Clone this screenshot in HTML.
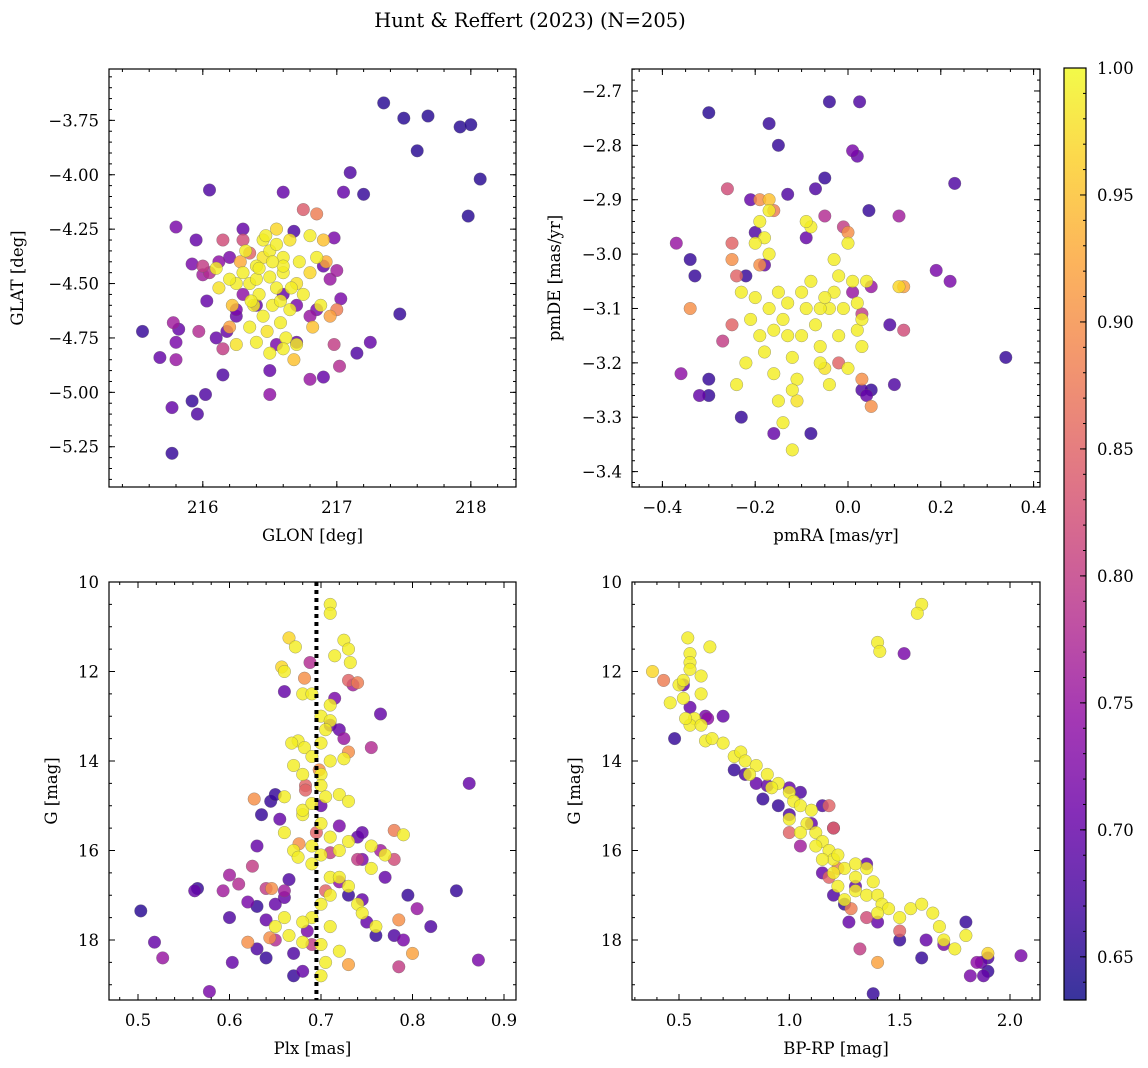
<!DOCTYPE html>
<html><head><meta charset="utf-8">
<style>
html,body{margin:0;padding:0;background:#fff;}
svg{display:block;font-family:"DejaVu Serif","Liberation Serif",serif;}
</style></head>
<body>
<svg id="fig" width="1148" height="1068" viewBox="0 0 1148 1068">
<text x="530" y="27" text-anchor="middle" font-size="19.5">Hunt &amp; Reffert (2023) (N=205)</text>
</svg>
<script>
// ---- data: [x, y, membership probability] ----
const glonGlatProb = [
[217.35,-3.67,.65],[217.5,-3.74,.65],[217.68,-3.73,.65],[217.6,-3.89,.65],[217.92,-3.78,.65],[218.0,-3.77,.65],[218.07,-4.02,.65],[217.98,-4.19,.65],[217.1,-3.99,.68],[217.05,-4.08,.7],[217.2,-4.09,.66],[216.05,-4.07,.68],[216.6,-4.08,.7],[215.55,-4.72,.66],[215.68,-4.84,.7],[215.8,-4.24,.72],[215.78,-4.68,.76],[215.82,-4.71,.7],[215.8,-4.77,.72],[215.8,-4.85,.75],[215.77,-5.07,.7],[215.77,-5.28,.66],[215.92,-5.04,.66],[215.96,-5.1,.68],[216.02,-5.01,.68],[216.1,-4.75,.7],[216.15,-4.8,.8],[216.15,-4.92,.68],[216.18,-4.72,.7],[216.25,-4.65,.7],[217.47,-4.64,.66],[217.25,-4.77,.7],[217.15,-4.82,.68],[216.9,-4.93,.7],[216.8,-4.94,.75],[217.02,-4.88,.78],[216.5,-5.01,.74],[216.5,-4.9,.7],[216.7,-4.77,.7],[216.55,-4.78,.72],[215.92,-4.41,.72],[215.95,-4.3,.7],[216.0,-4.46,.76],[216.0,-4.42,.8],[216.05,-4.45,.78],[216.12,-4.4,.74],[216.2,-4.38,.72],[216.3,-4.25,.7],[216.68,-4.26,.68],[216.98,-4.29,.72],[217.0,-4.44,.76],[217.03,-4.57,.72],[216.95,-4.48,.75],[216.9,-4.42,.7],[216.85,-4.62,.72],[216.3,-4.55,.74],[216.25,-4.62,.72],[216.6,-4.55,.7],[216.7,-4.6,.72],[216.8,-4.65,.75],[215.97,-4.72,.78],[216.03,-4.58,.7],[216.4,-4.6,.7],
[216.3,-4.45,.99],[216.35,-4.5,.99],[216.4,-4.42,.99],[216.45,-4.38,.98],[216.5,-4.35,.99],[216.5,-4.47,.99],[216.55,-4.52,.99],[216.6,-4.45,.99],[216.42,-4.55,.99],[216.38,-4.6,.99],[216.45,-4.65,.99],[216.52,-4.6,.99],[216.58,-4.68,.99],[216.48,-4.72,.98],[216.35,-4.7,.99],[216.62,-4.75,.99],[216.65,-4.62,.99],[216.7,-4.5,.98],[216.72,-4.4,.99],[216.75,-4.55,.99],[216.8,-4.45,.97],[216.85,-4.38,.99],[216.9,-4.3,.95],[216.92,-4.4,.93],[216.88,-4.6,.99],[216.82,-4.7,.95],[216.7,-4.78,.99],[216.6,-4.8,.99],[216.5,-4.82,.99],[216.4,-4.77,.99],[216.25,-4.78,.98],[216.2,-4.7,.92],[216.22,-4.6,.95],[216.25,-4.5,.99],[216.2,-4.48,.99],[216.1,-4.43,.99],[216.12,-4.52,.98],[216.28,-4.4,.93],[216.32,-4.35,.99],[216.45,-4.3,.99],[216.55,-4.32,.99],[216.6,-4.38,.99],[216.65,-4.3,.98],[216.55,-4.25,.97],[216.47,-4.28,.99],[216.8,-4.28,.99],[216.85,-4.18,.88],[216.75,-4.16,.84],[216.35,-4.36,.85],[216.3,-4.3,.82],[216.15,-4.3,.82],[216.6,-4.42,.99],[216.4,-4.48,.99],[216.36,-4.58,.99],[216.68,-4.85,.95],[216.95,-4.65,.92],[217.0,-4.62,.88],[216.98,-4.78,.8],[216.52,-4.4,.99],[216.42,-4.43,.99],[216.58,-4.58,.99],[216.66,-4.52,.99]
];
const pmraPmdeProb = [
[-0.3,-2.74,.65],[-0.17,-2.76,.66],[-0.15,-2.8,.66],[-0.04,-2.72,.66],[0.025,-2.72,.68],[0.01,-2.81,.72],[0.02,-2.82,.7],[-0.05,-2.86,.66],[-0.07,-2.88,.68],[-0.13,-2.89,.68],[0.23,-2.87,.68],[0.34,-3.19,.66],[0.19,-3.03,.72],[0.22,-3.05,.72],[0.09,-3.13,.68],[0.1,-3.24,.68],[0.045,-2.92,.66],[-0.37,-2.98,.75],[-0.34,-3.01,.66],[-0.33,-3.04,.66],[-0.36,-3.22,.74],[-0.32,-3.26,.7],[-0.3,-3.26,.66],[-0.3,-3.23,.66],[-0.23,-3.3,.66],[-0.08,-3.33,.66],[-0.16,-3.33,.7],[0.03,-3.25,.68],[0.05,-3.25,.66],[0.04,-3.26,.7],[-0.2,-2.96,.68],[-0.18,-3.02,.7],[-0.22,-3.04,.66],[-0.09,-2.97,.7],[-0.05,-2.93,.78],[0.11,-2.93,.76],[-0.26,-2.88,.82],[-0.21,-2.9,.7],[0.12,-3.14,.82],
[-0.34,-3.1,.9],[-0.25,-2.98,.85],[-0.25,-3.01,.9],[-0.24,-3.04,.85],[-0.27,-3.16,.8],[-0.25,-3.13,.85],[-0.19,-3.02,.9],[-0.17,-2.9,.95],[-0.19,-2.9,.9],[-0.16,-2.92,.88],[0.0,-2.96,.9],[-0.01,-2.95,.8],[0.01,-3.07,.75],[0.03,-3.11,.8],[0.05,-3.06,.75],[0.05,-3.28,.9],[0.03,-3.23,.9],[-0.02,-3.2,.85],[0.12,-3.06,.92],
[-0.19,-2.94,.99],[-0.18,-2.97,.99],[-0.17,-3.0,.99],[-0.2,-3.08,.99],[-0.21,-3.12,.99],[-0.19,-3.15,.99],[-0.18,-3.18,.99],[-0.17,-3.1,.99],[-0.15,-3.07,.99],[-0.14,-3.12,.99],[-0.13,-3.15,.99],[-0.12,-3.19,.99],[-0.11,-3.23,.99],[-0.12,-3.25,.99],[-0.11,-3.27,.98],[-0.14,-3.31,.99],[-0.12,-3.36,.99],[-0.1,-3.07,.99],[-0.09,-3.1,.99],[-0.08,-3.05,.99],[-0.07,-3.13,.99],[-0.06,-3.17,.99],[-0.05,-3.21,.98],[-0.04,-3.1,.99],[-0.03,-3.01,.99],[-0.02,-3.04,.99],[-0.01,-3.1,.99],[0,-2.98,.99],[0.01,-3.05,.99],[0.02,-3.09,.99],[0.03,-3.17,.99],[-0.08,-2.95,.99],[-0.09,-2.94,.99],[-0.23,-3.07,.99],[-0.22,-3.2,.99],[-0.24,-3.24,.99],[-0.16,-3.22,.99],[-0.15,-3.27,.99],[-0.06,-3.2,.99],[-0.04,-3.24,.99],[0.0,-3.21,.99],[-0.02,-3.15,.99],[0.02,-3.14,.99],[-0.03,-3.07,.99],[-0.16,-3.14,.99],[-0.1,-3.15,.99],[-0.13,-3.09,.99],[-0.06,-3.1,.99],[0.11,-3.06,.97],[0.04,-3.05,.99],[0.03,-3.12,.99],[-0.17,-2.92,.99],[-0.2,-2.98,.99],[-0.05,-3.08,.99]
];
const plxGProb = [
[0.503,17.35,.65],[0.518,18.05,.7],[0.527,18.4,.75],[0.562,16.9,.7],[0.565,16.85,.66],[0.578,19.15,.72],[0.593,16.9,.76],[0.6,17.5,.68],[0.603,18.5,.7],[0.62,17.15,.72],[0.63,17.25,.66],[0.64,17.55,.7],[0.64,18.4,.66],[0.63,18.2,.68],[0.63,15.9,.7],[0.635,15.2,.66],[0.645,14.9,.66],[0.65,14.75,.66],[0.655,15.3,.7],[0.66,12.45,.7],[0.665,16.65,.68],[0.67,18.8,.66],[0.68,18.7,.7],[0.688,11.8,.78],[0.69,18.1,.8],[0.685,17.8,.72],[0.66,17.05,.7],[0.7,15.0,.7],[0.71,13.2,.7],[0.715,12.6,.72],[0.72,13.3,.7],[0.725,13.5,.75],[0.735,12.3,.76],[0.74,15.7,.7],[0.745,16.2,.72],[0.755,13.7,.78],[0.765,12.95,.7],[0.77,16.6,.7],[0.78,17.9,.68],[0.785,18.6,.8],[0.79,18.0,.72],[0.795,17.0,.66],[0.805,17.3,.75],[0.82,17.7,.68],[0.848,16.9,.66],[0.862,14.5,.7],[0.872,18.45,.72],[0.75,17.6,.7],[0.76,17.9,.66],[0.745,17.1,.7],[0.73,17.0,.66],[0.72,16.7,.74],[0.74,16.2,.8],[0.78,16.2,.82],[0.765,16.0,.76],[0.745,15.6,.7],[0.72,15.45,.72],[0.625,16.35,.8],[0.61,16.75,.78],[0.6,16.55,.76],[0.65,17.2,.7],[0.66,16.9,.76],[0.64,16.85,.8],[0.67,18.3,.68],[0.65,18.0,.78],
[0.627,14.85,.9],[0.73,12.2,.85],[0.74,12.25,.88],[0.698,14.2,.9],[0.683,14.55,.85],[0.683,14.65,.85],[0.695,15.6,.85],[0.71,16.05,.8],[0.78,15.55,.88],[0.8,18.3,.92],[0.785,17.55,.9],[0.73,18.55,.92],[0.73,13.8,.9],[0.682,12.15,.9],[0.644,17.95,.9],[0.646,16.85,.9],[0.62,18.05,.9],[0.676,15.85,.9],[0.705,16.9,.85],
[0.71,10.5,.99],[0.71,10.7,.99],[0.725,11.3,.99],[0.73,11.5,.99],[0.732,11.8,.99],[0.715,11.65,.99],[0.665,11.25,.97],[0.672,11.45,.99],[0.657,11.9,.97],[0.66,12.0,.99],[0.68,12.5,.99],[0.69,12.5,.99],[0.71,12.75,.99],[0.7,13.0,.99],[0.71,13.1,.99],[0.705,13.3,.99],[0.7,13.6,.99],[0.675,13.55,.99],[0.668,13.6,.99],[0.682,13.7,.99],[0.69,13.9,.99],[0.67,14.1,.99],[0.68,14.3,.99],[0.7,14.3,.99],[0.71,14.0,.99],[0.725,13.95,.99],[0.7,14.55,.99],[0.705,14.8,.99],[0.72,14.75,.99],[0.73,14.9,.99],[0.66,14.8,.99],[0.66,15.6,.99],[0.68,15.2,.99],[0.7,15.4,.99],[0.71,15.7,.99],[0.69,15.9,.99],[0.67,16.0,.99],[0.675,16.15,.99],[0.69,16.3,.99],[0.7,16.1,.99],[0.72,16.0,.99],[0.73,15.8,.99],[0.755,15.9,.99],[0.77,16.1,.99],[0.79,15.65,.99],[0.71,16.6,.99],[0.72,16.6,.99],[0.73,16.8,.99],[0.7,17.2,.99],[0.69,17.5,.99],[0.68,17.6,.99],[0.71,17.7,.99],[0.74,17.2,.99],[0.66,17.5,.99],[0.65,17.7,.99],[0.665,17.9,.99],[0.7,18.1,.99],[0.72,18.25,.99],[0.705,18.5,.99],[0.68,18.05,.99],[0.7,18.8,.99],[0.71,17.0,.99],[0.745,17.4,.99],[0.76,17.7,.99],[0.68,15.1,.99],[0.69,14.95,.99],[0.755,16.4,.99]
];
const bprpGProb = [
[0.48,13.5,.66],[0.52,12.3,.7],[0.55,12.8,.7],[0.62,13.0,.72],[0.7,13.0,.7],[0.75,14.2,.66],[0.8,14.3,.68],[0.88,14.85,.66],[0.9,14.55,.7],[0.95,15.0,.66],[1.0,15.2,.68],[1.1,15.4,.7],[1.05,15.9,.76],[1.15,16.5,.7],[1.2,17.0,.68],[1.25,17.2,.66],[1.27,17.6,.7],[1.4,17.6,.7],[1.5,18.0,.66],[1.6,18.4,.66],[1.62,18.0,.7],[1.7,18.1,.72],[1.8,17.6,.66],[1.82,18.8,.72],[1.85,18.5,.74],[1.87,18.5,.7],[1.9,18.7,.66],[1.88,18.8,.7],[1.9,18.4,.68],[2.05,18.35,.72],[1.38,19.2,.66],[1.52,11.6,.72],[0.63,13.05,.74],[0.85,14.5,.7],[1.0,14.6,.7],[1.05,14.7,.68],[1.3,16.8,.7],[1.2,15.5,.72],[1.35,16.3,.7],[1.15,15.0,.68],
[0.43,12.2,.88],[1.4,18.5,.92],[1.32,18.2,.8],[1.22,16.4,.88],[1.18,15.0,.85],[1.0,15.6,.85],[1.18,16.6,.85],[1.35,17.5,.82],[1.2,15.5,.85],[1.28,17.3,.88],[1.5,17.8,.85],
[0.38,12.0,.97],[0.46,12.7,.99],[0.5,12.3,.99],[0.52,12.2,.99],[0.54,11.25,.99],[0.55,11.6,.99],[0.55,11.8,.99],[0.55,11.95,.99],[0.6,12.1,.99],[0.64,11.45,.99],[0.6,12.5,.99],[0.52,12.6,.99],[0.57,13.05,.99],[0.55,13.2,.99],[0.53,13.05,.99],[0.6,13.2,.99],[0.62,13.55,.99],[0.65,13.5,.99],[0.7,13.6,.99],[0.75,13.9,.99],[0.78,13.8,.99],[0.8,14.0,.99],[0.85,14.1,.99],[0.9,14.3,.99],[0.95,14.5,.99],[1.0,14.7,.99],[1.02,14.9,.99],[1.05,15.0,.99],[1.1,15.1,.99],[1.0,15.3,.99],[1.08,15.4,.99],[1.12,15.6,.99],[1.15,15.8,.99],[1.18,16.0,.99],[1.2,16.2,.99],[1.22,16.1,.99],[1.25,16.4,.99],[1.3,16.6,.99],[1.22,16.8,.99],[1.3,16.9,.99],[1.35,17.0,.99],[1.38,16.7,.99],[1.4,17.0,.99],[1.42,17.2,.99],[1.45,17.3,.99],[1.5,17.5,.99],[1.55,17.3,.99],[1.6,17.2,.99],[1.65,17.4,.99],[1.68,17.7,.99],[1.7,18.0,.99],[1.75,18.2,.99],[1.8,17.9,.99],[1.9,18.3,.97],[1.6,10.5,.99],[1.58,10.7,.99],[1.4,11.35,.99],[1.41,11.55,.99],[1.05,15.6,.99],[1.12,15.9,.99],[1.35,16.4,.99],[1.25,17.1,.99],[1.4,17.4,.99],[0.92,14.6,.99],[0.82,14.3,.99],[1.15,16.2,.99],[1.3,16.3,.99],[1.2,16.5,.99]
];
const plxMedian = [0.695];
const cbTicks = [0.65,0.70,0.75,0.80,0.85,0.90,0.95,1.00];
const cbMin = 0.633, cbMax = 1.0;

// ---- helpers ----
const NS = 'http://www.w3.org/2000/svg';
const fig = document.getElementById('fig');
function mk(tag, attrs, parent){const e=document.createElementNS(NS,tag);for(const k in attrs)e.setAttribute(k,attrs[k]);(parent||fig).appendChild(e);return e;}
const stops=[[0,'#0d0887'],[.1,'#41049d'],[.2,'#6a00a8'],[.3,'#8f0da4'],[.4,'#b12a90'],[.5,'#cc4778'],[.6,'#e16462'],[.7,'#f2844b'],[.8,'#fca636'],[.9,'#fcce25'],[1,'#f0f921']];
function hex(h){return [1,3,5].map(i=>parseInt(h.substr(i,2),16));}
function plasma(t){t=Math.max(0,Math.min(1,t));for(let i=1;i<stops.length;i++){if(t<=stops[i][0]){const a=stops[i-1],b=stops[i];const f=(t-a[0])/(b[0]-a[0]);const ca=hex(a[1]),cb=hex(b[1]);return 'rgb('+ca.map((v,j)=>Math.round(v+(cb[j]-v)*f)).join(',')+')';}}return stops[10][1];}
function colorOf(p){return plasma((p-cbMin)/(cbMax-cbMin));}
function fmt(v,d){return (v<0?'\u2212':'')+Math.abs(v).toFixed(d);}

function panel(cfg){
  const {L,T,W,H,xd,yd,inv,name}=cfg;
  const g=mk('g',{});
  
  
  const sx=v=>L+(v-xd[0])/(xd[1]-xd[0])*W;
  const sy=inv? v=>T+(v-yd[0])/(yd[1]-yd[0])*H : v=>T+H-(v-yd[0])/(yd[1]-yd[0])*H;
  const pts=cfg.data.slice().sort((a,b)=>a[2]-b[2]);
  const pg=mk('g',{},g);
  
  
  pts.forEach(d=>{
    const c=mk('circle',{cx:sx(d[0]).toFixed(1),cy:sy(d[1]).toFixed(1),r:6.3,fill:colorOf(d[2]),'fill-opacity':0.82,stroke:'#666','stroke-width':0.5,'stroke-opacity':0.6},pg);
    
    
  });
  if(cfg.after) cfg.after(g,sx,sy);
  const tg=mk('g',{stroke:'#000','stroke-width':1},g);
  const eps=1e-9;
  for(let v=Math.ceil(xd[0]/cfg.xminor-eps)*cfg.xminor; v<=xd[1]+eps; v+=cfg.xminor){const x=sx(v);mk('line',{x1:x,x2:x,y1:T+H,y2:T+H-3},tg);mk('line',{x1:x,x2:x,y1:T,y2:T+3},tg);}
  const ylo=Math.min(...yd),yhi=Math.max(...yd);
  for(let v=Math.ceil(ylo/cfg.yminor-eps)*cfg.yminor; v<=yhi+eps; v+=cfg.yminor){const y=sy(v);mk('line',{x1:L,x2:L+3,y1:y,y2:y},tg);mk('line',{x1:L+W,x2:L+W-3,y1:y,y2:y},tg);}
  cfg.xticks.forEach(v=>{const x=sx(v);mk('line',{x1:x,x2:x,y1:T+H,y2:T+H-6},tg);mk('line',{x1:x,x2:x,y1:T,y2:T+6},tg);
    const t=mk('text',{x:x,y:T+H+26,'text-anchor':'middle','font-size':16.5},g);t.textContent=fmt(v,cfg.xdec);
    
    });
  cfg.yticks.forEach(v=>{const y=sy(v);mk('line',{x1:L,x2:L+6,y1:y,y2:y},tg);mk('line',{x1:L+W,x2:L+W-6,y1:y,y2:y},tg);
    const t=mk('text',{x:L-10,y:y+6,'text-anchor':'end','font-size':16.5},g);t.textContent=fmt(v,cfg.ydec);
    
    });
  const fr=mk('rect',{x:L,y:T,width:W,height:H,fill:'none',stroke:'#000','stroke-width':1.2},g);
  
  
  const xl=mk('text',{x:L+W/2,y:T+H+54,'text-anchor':'middle','font-size':16.5},g);xl.textContent=cfg.xlabel;
  
  
  const yl=mk('text',{x:0,y:0,'text-anchor':'middle','font-size':16.5,transform:`translate(${cfg.ylx},${T+H/2}) rotate(-90)`},g);yl.textContent=cfg.ylabel;
  
  
}

panel({name:'glon-glat-panel',L:109,T:69,W:407,H:418,xd:[215.3,218.337],yd:[-5.435,-3.514],data:glonGlatProb,
  xticks:[216,217,218],xminor:0.2,xdec:0,yticks:[-5.25,-5.0,-4.75,-4.5,-4.25,-4.0,-3.75],yminor:0.05,ydec:2,xlabel:'GLON [deg]',ylabel:'GLAT [deg]',ylx:23});
panel({name:'proper-motion-panel',L:632,T:69,W:408,H:418,xd:[-0.4655,0.4138],yd:[-3.4283,-2.6596],data:pmraPmdeProb,
  xticks:[-0.4,-0.2,0,0.2,0.4],xminor:0.05,xdec:1,yticks:[-3.4,-3.3,-3.2,-3.1,-3.0,-2.9,-2.8,-2.7],yminor:0.02,ydec:1,xlabel:'pmRA [mas/yr]',ylabel:'pmDE [mas/yr]',ylx:560});
panel({name:'parallax-mag-panel',L:109,T:582,W:407,H:418,xd:[0.4683,0.9131],yd:[10,19.341],inv:true,data:plxGProb,
  xticks:[0.5,0.6,0.7,0.8,0.9],xminor:0.02,xdec:1,yticks:[10,12,14,16,18],yminor:0.5,ydec:0,xlabel:'Plx [mas]',ylabel:'G [mag]',ylx:57,
  after:(g,sx,sy)=>{plxMedian.forEach(v=>{const l=mk('line',{x1:sx(v),x2:sx(v),y1:582,y2:1000,stroke:'#000','stroke-width':4,'stroke-dasharray':'4,4'},g);
    
    });}});
panel({name:'cmd-panel',L:632,T:582,W:408,H:418,xd:[0.287,2.136],yd:[10,19.341],inv:true,data:bprpGProb,
  xticks:[0.5,1.0,1.5,2.0],xminor:0.1,xdec:1,yticks:[10,12,14,16,18],yminor:0.5,ydec:0,xlabel:'BP-RP [mag]',ylabel:'G [mag]',ylx:580});

(function(){
  const L=1064,T=68,W=22,H=932;
  const defs=mk('defs',{});
  const lg=mk('linearGradient',{id:'cbg',x1:0,y1:1,x2:0,y2:0},defs);
  for(let i=0;i<=20;i++){const p=cbMin+(cbMax-cbMin)*i/20;mk('stop',{offset:(i/20),'stop-color':colorOf(p)},lg);}
  const g=mk('g',{});
  
  
  mk('rect',{x:L,y:T,width:W,height:H,fill:'url(#cbg)','fill-opacity':0.82},g);
  const sy=v=>T+H-(v-cbMin)/(cbMax-cbMin)*H;
  for(let v=0.64;v<=1.0001;v+=0.01){mk('line',{x1:L+W,x2:L+W-3,y1:sy(v),y2:sy(v),stroke:'#000'},g);}
  cbTicks.forEach(v=>{const y=sy(v);mk('line',{x1:L+W,x2:L+W-6,y1:y,y2:y,stroke:'#000'},g);
    const t=mk('text',{x:L+W+11,y:y+6,'font-size':16.5},g);t.textContent=v.toFixed(2);
    
    });
  mk('rect',{x:L,y:T,width:W,height:H,fill:'none',stroke:'#000','stroke-width':1.2},g);
})();
</script>
</body></html>
